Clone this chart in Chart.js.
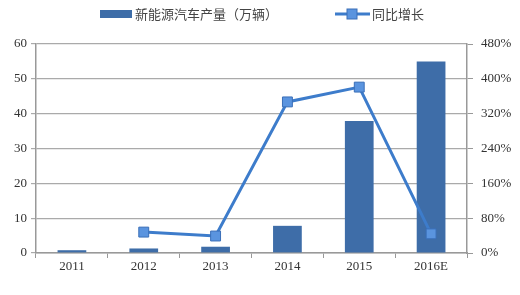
<!DOCTYPE html>
<html>
<head>
<meta charset="utf-8">
<script src="https://cdn.jsdelivr.net/npm/chart.js@4"></script>
<style>
  html, body { margin: 0; padding: 0; background: #fff; }
  #wrap { width: 520px; height: 295px; position: relative; }
</style>
</head>
<body>
<div id="wrap"><canvas id="chart" width="520" height="295"></canvas></div>
<script>
// chart data
const years = ['2011', '2012', '2013', '2014', '2015', '2016E'];
const output = [0.8, 1.3, 1.8, 7.8, 37.9, 55];          // 万辆
const growth = [null, 48, 39, 347, 381, 44];            // %
const leftTicks = [0, 10, 20, 30, 40, 50, 60];
const rightTicks = [0, 80, 160, 240, 320, 400, 480];

const barColor = '#3E6DA8';
const lineColor = '#3D7CCB';
const serif = 'Liberation Serif, Times New Roman, serif';
const cjk = 'Noto Sans CJK SC, sans-serif';

// simple legend drawn on top
const topLegend = {
    id: 'topLegend',
    afterDraw(chart) {
        const ctx = chart.ctx;
        ctx.save();
        ctx.font = '13px ' + cjk;
        ctx.textBaseline = 'middle';
        // bar item
        ctx.fillStyle = barColor;
        ctx.fillRect(100, 10, 32, 8);
        ctx.fillStyle = '#444';
        ctx.fillText(chart.data.datasets[0].label, 135, 14);
        // line item
        ctx.strokeStyle = lineColor;
        ctx.lineWidth = 3;
        ctx.beginPath();
        ctx.moveTo(335, 14);
        ctx.lineTo(370, 14);
        ctx.stroke();
        ctx.fillStyle = '#5A94DF';
        ctx.strokeStyle = '#3A6FB8';
        ctx.lineWidth = 1;
        ctx.fillRect(347, 9, 10, 10);
        ctx.strokeRect(347, 9, 10, 10);
        ctx.fillStyle = '#444';
        ctx.fillText(chart.data.datasets[1].label, 372, 14);
        ctx.restore();
    }
};

new Chart(document.getElementById('chart').getContext('2d'), {
    data: {
        labels: years,
        datasets: [
            {
                type: 'bar',
                label: '新能源汽车产量（万辆）',
                data: output,
                backgroundColor: barColor,
                categoryPercentage: 1,
                barPercentage: 0.4,
                yAxisID: 'y',
                order: 2
            },
            {
                type: 'line',
                label: '同比增长',
                data: growth,
                borderColor: lineColor,
                borderWidth: 3,
                pointStyle: 'rect',
                pointRadius: 7,
                pointBackgroundColor: '#5A94DF',
                pointBorderColor: '#3A6FB8',
                pointBorderWidth: 1,
                tension: 0,
                yAxisID: 'y1',
                order: 1
            }
        ]
    },
    options: {
        responsive: false,
        animation: false,
        layout: { padding: { top: 44, left: 0, right: 0, bottom: 0 } },
        plugins: {
            legend: { display: false },
            tooltip: { enabled: false }
        },
        scales: {
            x: {
                offset: true,
                grid: { drawOnChartArea: false, drawTicks: true, tickLength: 5, color: '#999', offset: true },
                border: { color: '#999', width: 1.5 },
                ticks: { font: { family: serif, size: 13 }, color: '#333', padding: 1 },
                afterFit(s) { s.height = 42; }
            },
            y: {
                position: 'left',
                min: 0, max: 60,
                afterBuildTicks(s) { s.ticks = leftTicks.map(v => ({ value: v })); },
                grid: { color: '#aaa', tickLength: 5, lineWidth: 1.2 },
                border: { color: '#999', width: 1.5 },
                ticks: { font: { family: serif, size: 13 }, color: '#333', padding: 4 },
                afterFit(s) { s.width = 36; }
            },
            y1: {
                position: 'right',
                min: 0, max: 480,
                afterBuildTicks(s) { s.ticks = rightTicks.map(v => ({ value: v })); },
                grid: { drawOnChartArea: false, tickLength: 6, color: '#999' },
                border: { color: '#999', width: 1.5 },
                ticks: { font: { family: serif, size: 13 }, color: '#333', padding: 8,
                         callback: v => v + '%' },
                afterFit(s) { s.width = 53; }
            }
        }
    },
    plugins: [topLegend]
});
</script>
</body>
</html>
